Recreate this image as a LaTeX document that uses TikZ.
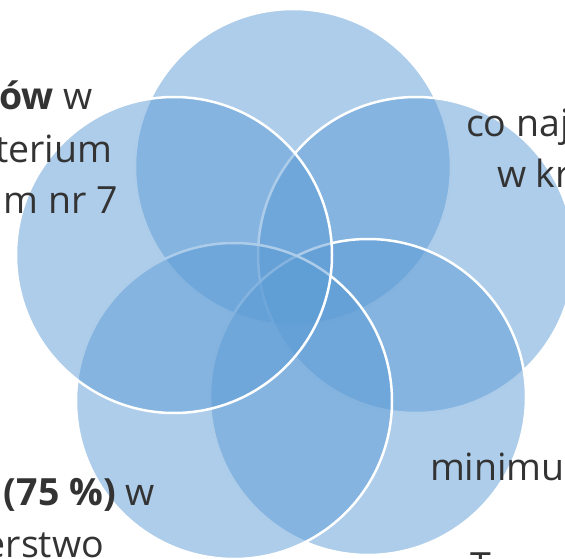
\documentclass[tikz,border=0pt]{standalone}
\usepackage{fontspec}
\setmainfont{Open Sans}
\definecolor{petal}{HTML}{5B9BD5}
\definecolor{ink}{HTML}{333333}
\begin{document}
\begin{tikzpicture}[x=1pt,y=-1pt,
  petalcircle/.style={circle, minimum size=316pt, inner sep=0pt, outer sep=0pt,
    fill=petal, fill opacity=0.5, draw=white, draw opacity=1, line width=2.5pt},
  label/.style={text=ink, inner sep=0pt, outer sep=0pt,
    font=\fontsize{37.5}{52}\selectfont}]
  \useasboundingbox (0,0) rectangle (565,559);
  \clip (0,0) rectangle (565,559);

  % five overlapping circles, later ones overlap the earlier outlines
  \node[petalcircle] (ctop)   at (293,167) {};
  \node[petalcircle] (cright) at (416,255) {};
  \node[petalcircle] (cbr)    at (368,397) {};
  \node[petalcircle] (cbl)    at (234,401) {};
  \node[petalcircle] (cleft)  at (174,255) {};

  % labels around the circles
  \node[label, anchor=base east] (tl1) at (93,110) {\textbf{ów} w};
  \node[label, anchor=base east] (tl2) at (112,163) {terium};
  \node[label, anchor=base east] (tl3) at (118,213) {m nr 7};

  \node[label, anchor=base west] (tr1) at (466,137) {co naj};
  \node[label, anchor=base west] (tr2) at (497,187) {w kr};

  \node[label, anchor=base west] (br1) at (430,480) {minimu};
  \node[label, anchor=base west] (br2) at (470,579) {T};

  \node[label, anchor=base west] (bl1) at (4,505) {\textbf{(75 \%)} w};
  \node[label, anchor=base east] (bl2) at (104,557) {erstwo};
\end{tikzpicture}
\end{document}
